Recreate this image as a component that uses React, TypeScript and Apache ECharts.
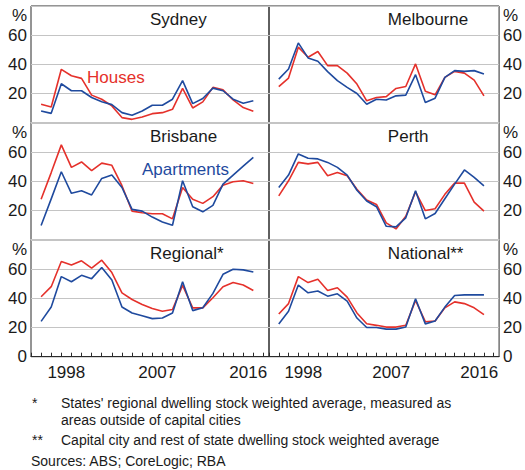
import React, { useEffect, useRef } from "react";
import * as echarts from "echarts";

const years = [1996, 1997, 1998, 1999, 2000, 2001, 2002, 2003, 2004, 2005, 2006, 2007, 2008, 2009, 2010, 2011, 2012, 2013, 2014, 2015, 2016, 2017];
const labelYears = [1998, 2007, 2016];
const yTicks = [0, 20, 40, 60, 80];

const panelNames = ["Sydney", "Melbourne", "Brisbane", "Perth", "Regional*", "National**"];

const sydneyHouses = [12.6, 10.8, 36.6, 32.2, 30.4, 18.9, 16.1, 11.5, 3.5, 2.3, 3.9, 6.2, 6.9, 9.2, 23.5, 10.1, 14.3, 24.2, 22.5, 15.6, 10.4, 7.8];
const sydneyApartments = [8.0, 6.4, 26.7, 21.9, 21.9, 17.3, 14.3, 12.4, 6.9, 5.1, 8.0, 12.0, 12.0, 16.1, 28.8, 13.1, 16.6, 23.7, 21.9, 16.1, 13.3, 15.0];

const melbourneHouses = [24.8, 30.6, 51.8, 44.9, 48.8, 39.1, 39.1, 34.0, 26.5, 15.0, 17.3, 17.9, 23.5, 24.8, 40.3, 21.6, 19.1, 31.1, 35.2, 34.0, 29.2, 18.4];
const melbourneApartments = [29.9, 36.8, 54.7, 44.4, 42.1, 35.0, 28.8, 24.2, 20.0, 12.7, 16.1, 15.6, 18.4, 18.9, 32.9, 13.8, 16.8, 31.1, 35.7, 35.2, 35.7, 33.4];

const brisbaneHouses = [27.7, 46.0, 65.0, 49.6, 53.3, 47.3, 52.5, 51.0, 37.0, 19.6, 18.5, 17.8, 17.8, 14.3, 35.8, 27.7, 24.9, 29.5, 37.4, 39.7, 40.4, 38.5];
const brisbaneApartments = [9.7, 28.0, 46.6, 31.8, 33.5, 30.7, 42.0, 44.3, 35.8, 20.8, 19.6, 15.5, 12.2, 9.9, 40.4, 22.6, 19.1, 23.5, 38.1, 44.3, 50.5, 56.5];

const perthHouses = [30.0, 40.4, 53.0, 52.0, 53.0, 43.8, 46.1, 43.8, 34.6, 27.2, 24.2, 11.5, 7.4, 16.1, 32.8, 20.0, 21.2, 31.1, 38.8, 38.8, 25.8, 19.6];
const perthApartments = [35.8, 44.3, 58.8, 55.8, 55.4, 53.0, 49.6, 44.3, 33.9, 26.5, 22.6, 9.2, 8.8, 15.0, 33.5, 14.3, 18.0, 28.1, 38.1, 47.8, 42.7, 36.9];

const regionalHouses = [41.1, 48.0, 65.3, 62.8, 65.7, 60.7, 66.2, 57.7, 43.8, 39.2, 35.8, 33.0, 31.1, 32.3, 48.9, 33.5, 33.5, 40.4, 48.0, 50.8, 49.1, 45.4];
const regionalApartments = [24.2, 34.1, 54.9, 51.4, 55.8, 53.5, 61.1, 52.6, 34.1, 30.0, 28.1, 26.1, 26.5, 30.0, 51.4, 31.6, 33.5, 43.4, 56.5, 60.0, 59.5, 58.1];

const nationalHouses = [29.3, 36.4, 54.9, 50.8, 53.1, 45.4, 47.3, 40.8, 30.0, 22.6, 21.5, 20.3, 20.3, 21.5, 38.5, 24.0, 24.5, 33.5, 37.6, 36.4, 33.5, 28.8];
const nationalApartments = [22.4, 31.1, 49.1, 43.8, 45.0, 41.5, 43.1, 38.1, 26.5, 20.0, 20.0, 18.9, 18.9, 20.3, 39.7, 22.5, 24.5, 34.0, 42.0, 42.4, 42.4, 42.4];

const housesByPanel = [sydneyHouses, melbourneHouses, brisbaneHouses, perthHouses, regionalHouses, nationalHouses];
const apartmentsByPanel = [sydneyApartments, melbourneApartments, brisbaneApartments, perthApartments, regionalApartments, nationalApartments];

const footnotes = [
  ["*", "States' regional dwelling stock weighted average, measured as"],
  ["", "areas outside of capital cities"],
  ["**", "Capital city and rest of state dwelling stock weighted average"],
];
const sourceText = "Sources: ABS; CoreLogic; RBA";

const RED = "#e5312b";
const BLUE = "#1f4a9e";
const FONT = "Liberation Sans, Arial, sans-serif";

export default function App() {
  const ref = useRef<HTMLDivElement>(null);

  useEffect(() => {
    if (!ref.current) return;
    const chart = echarts.init(ref.current, null, { renderer: "svg" });

    const colLeft = [31, 269];
    const colWidth = [238, 237.7];
    const rowTop = [6, 123, 240];
    const rowHeight = 116.7;

    const grids: any[] = [];
    const xAxes: any[] = [];
    const yAxes: any[] = [];
    const series: any[] = [];
    const graphics: any[] = [];

    for (let p = 0; p < 6; p++) {
      const row = Math.floor(p / 2);
      const col = p % 2;
      grids.push({
        left: colLeft[col],
        top: rowTop[row],
        width: colWidth[col],
        height: rowHeight,
        show: true,
        borderColor: "#2b2b2b",
        borderWidth: 1,
        backgroundColor: "transparent",
        containLabel: false,
      });
      const bottomRow = row === 2;
      xAxes.push({
        type: "value",
        gridIndex: p,
        min: 1995,
        max: 2018.55,
        interval: 1,
        axisLine: { show: bottomRow, lineStyle: { color: "#2b2b2b", width: 1 } },
        axisTick: { show: bottomRow, inside: true, length: 4, lineStyle: { color: "#2b2b2b" } },
        splitLine: { show: false },
        axisLabel: {
          show: bottomRow,
          color: "#1a1a1a",
          fontFamily: FONT,
          fontSize: 17,
          margin: 7,
          padding: [0, 0, 0, 10],
          showMinLabel: true,
          showMaxLabel: false,
          formatter: (v: number) => (labelYears.includes(Math.round(v)) && Math.abs(v - Math.round(v)) < 1e-6 ? String(Math.round(v)) : ""),
        },
      });
      yAxes.push({
        type: "value",
        gridIndex: p,
        min: yTicks[0],
        max: yTicks[yTicks.length - 1],
        interval: 20,
        position: col === 0 ? "left" : "right",
        axisLine: { show: false },
        axisTick: { show: false },
        splitLine: { show: true, lineStyle: { color: "#c4c4c4", width: 1 } },
        axisLabel: {
          color: "#1a1a1a",
          fontFamily: FONT,
          fontSize: 17,
          margin: 4,
          showMinLabel: true,
          showMaxLabel: true,
          formatter: (v: number) => {
            if (v === 80) return "{p|%}";
            if (v === 0) return bottomRow ? "0" : "";
            return String(v);
          },
          rich: {
            p: { fontFamily: FONT, fontSize: 17, color: "#1a1a1a", padding: [18, 0, 0, 0] },
          },
        },
      });
      series.push({
        type: "line",
        name: "Houses",
        xAxisIndex: p,
        yAxisIndex: p,
        data: years.map((y, i) => [y, housesByPanel[p][i]]),
        showSymbol: false,
        lineStyle: { color: RED, width: 1.6 },
        itemStyle: { color: RED },
        z: 3,
      });
      series.push({
        type: "line",
        name: "Apartments",
        xAxisIndex: p,
        yAxisIndex: p,
        data: years.map((y, i) => [y, apartmentsByPanel[p][i]]),
        showSymbol: false,
        lineStyle: { color: BLUE, width: 1.6 },
        itemStyle: { color: BLUE },
        z: 4,
      });
      graphics.push({
        type: "text",
        left: colLeft[col] + colWidth[col] / 2,
        top: rowTop[row] + 5,
        style: {
          text: panelNames[p],
          fill: "#1a1a1a",
          font: `17px ${FONT}`,
          textAlign: "center",
        },
      });
    }

    graphics.push({
      type: "text",
      x: 87,
      y: 69,
      style: { text: "Houses", fill: RED, font: `17px ${FONT}` },
    });
    graphics.push({
      type: "text",
      x: 142,
      y: 161,
      style: { text: "Apartments", fill: BLUE, font: `17px ${FONT}` },
    });

    const noteY = [396, 413, 433];
    footnotes.forEach((f, i) => {
      if (f[0]) {
        graphics.push({ type: "text", x: 32, y: noteY[i], style: { text: f[0], fill: "#1a1a1a", font: `14px ${FONT}` } });
      }
      graphics.push({ type: "text", x: 61, y: noteY[i], style: { text: f[1], fill: "#1a1a1a", font: `14px ${FONT}` } });
    });
    graphics.push({ type: "text", x: 31, y: 454, style: { text: sourceText, fill: "#1a1a1a", font: `14px ${FONT}` } });

    chart.setOption({
      animation: false,
      backgroundColor: "#ffffff",
      grid: grids,
      xAxis: xAxes,
      yAxis: yAxes,
      series,
      graphic: graphics,
    });

    return () => chart.dispose();
  }, []);

  return (
    <div
      ref={ref}
      style={{ position: "fixed", left: 0, top: 0, width: 525, height: 470, background: "#fff" }}
    />
  );
}
